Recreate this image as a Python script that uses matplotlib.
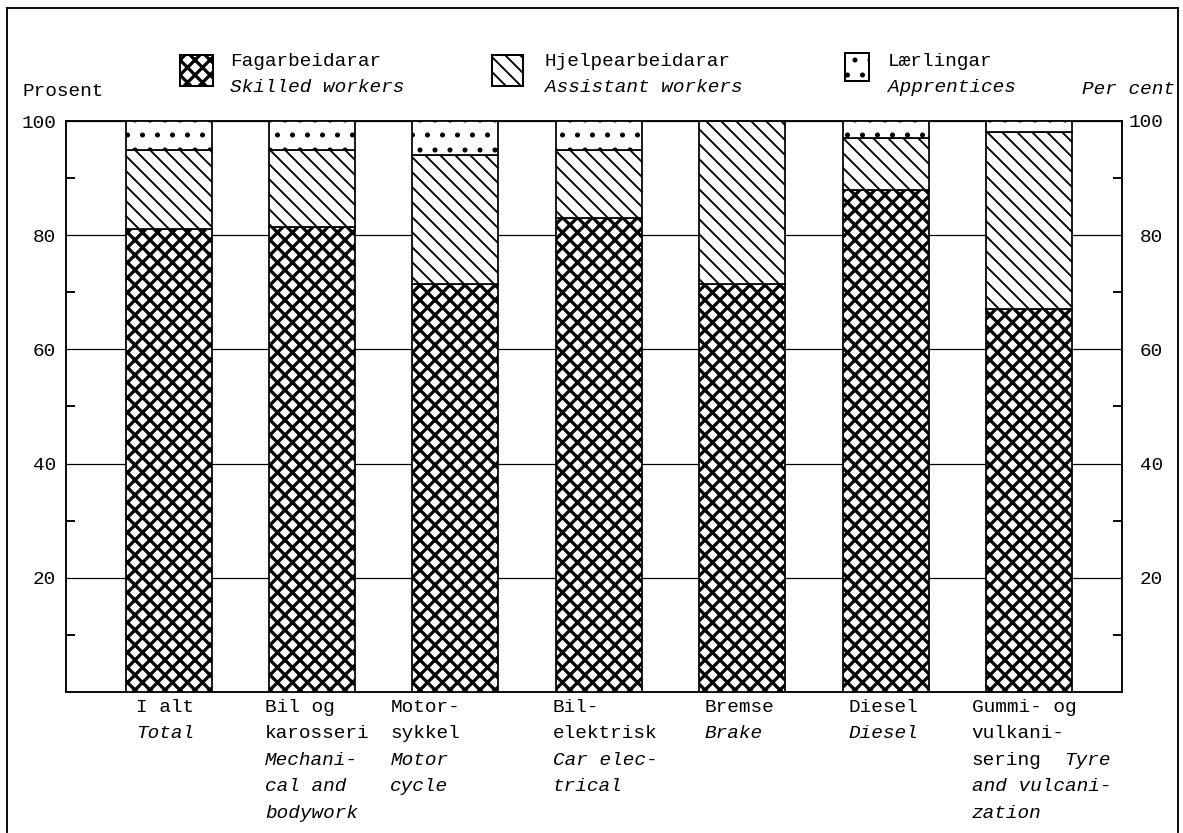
import matplotlib
matplotlib.use("Agg")
import matplotlib.pyplot as plt
from matplotlib.patches import Rectangle
from matplotlib.lines import Line2D
from matplotlib.transforms import blended_transform_factory

# Data (per cent of workers, by trade)
categories = ["I alt", "Bil og karosseri", "Motorsykkel", "Bil-elektrisk",
              "Bremse", "Diesel", "Gummi- og vulkanisering"]
skilled = [81, 81.5, 71.5, 83, 71.5, 88, 67]
assistant = [14, 13.5, 22.5, 12, 28.5, 9, 31]
apprentices = [5, 5, 6, 5, 0, 3, 2]

# category labels: (norwegian, english) per printed line
cat_lines = [
    [("I alt", ""), ("", "Total")],
    [("Bil og", ""), ("karosseri", ""), ("", "Mechani-"), ("", "cal and"), ("", "bodywork")],
    [("Motor-", ""), ("sykkel", ""), ("", "Motor"), ("", "cycle")],
    [("Bil-", ""), ("elektrisk", ""), ("", "Car elec-"), ("", "trical")],
    [("Bremse", ""), ("", "Brake")],
    [("Diesel", ""), ("", "Diesel")],
    [("Gummi- og", ""), ("vulkani-", ""), ("sering", "Tyre"), ("", "and vulcani-"), ("", "zation")],
]
label_shift = [-0.227, -0.328, -0.453, -0.32, -0.265, -0.26, -0.40]

legend_no = ["Fagarbeidarar", "Hjelpearbeidarar", "Lærlingar"]
legend_en = ["Skilled workers", "Assistant workers", "Apprentices"]
hatches = ["xx", "\\\\", "."]
hatch_lw = [2.6, 1.5, 1.6]

W, H, DPI = 1183, 833, 90
MONO = "Liberation Mono"
FS = 15.5
CHAR = 0.6 * FS * DPI / 72  # px per character (monospace)

def fx(px):
    return px / W

def fy(py):
    return 1 - py / H

plt.rcParams["font.family"] = MONO
fig = plt.figure(figsize=(W / DPI, H / DPI), dpi=DPI)
ax = fig.add_axes([fx(66), fy(692), fx(1122) - fx(66), fy(121) - fy(692)])

x = list(range(len(categories)))
bottoms = [0] * len(x)
for vals, h, lw in zip([skilled, assistant, apprentices], hatches, hatch_lw):
    plt.rcParams["hatch.linewidth"] = lw
    bars = ax.bar(x, vals, width=0.6, bottom=bottoms, color="white",
                  edgecolor="black", linewidth=1.4, hatch=h, zorder=3)
    for b in bars:
        if hasattr(b, "set_hatch_linewidth"):
            b.set_hatch_linewidth(lw)
    bottoms = [a + b for a, b in zip(bottoms, vals)]

ax.set_xlim(-0.715, 6.649)
ax.set_ylim(0, 100)
ax.set_xticks([])
ax.set_yticks([20, 40, 60, 80, 100])
ax.set_yticks([10, 30, 50, 70, 90], minor=True)
ax.grid(axis="y", which="major", color="black", linewidth=1.0, zorder=0)
ax.set_axisbelow(True)
for s in ax.spines.values():
    s.set_linewidth(1.5)
ax.tick_params(axis="y", which="major", length=0, pad=8, labelsize=FS)
ax.tick_params(axis="y", which="minor", direction="in", length=7, width=1.5)

# right hand scale
ax2 = ax.twinx()
ax2.set_ylim(0, 100)
ax2.set_yticks([20, 40, 60, 80, 100])
ax2.set_yticks([10, 30, 50, 70, 90], minor=True)
ax2.tick_params(axis="y", which="major", length=0, pad=33, labelsize=FS)
ax2.tick_params(axis="y", which="minor", direction="in", length=7, width=1.5)
for t in ax2.get_yticklabels():
    t.set_horizontalalignment("right")
for s in ax2.spines.values():
    s.set_visible(False)

# category labels under bars
trans = blended_transform_factory(ax.transData, fig.transFigure)
step = CHAR / (fx(1122) - fx(66)) / W * (6.649 + 0.715)
for i, lines in enumerate(cat_lines):
    xi = x[i] + label_shift[i]
    for k, (no, en) in enumerate(lines):
        yy = fy(707 + 26.5 * k)
        if no:
            ax.text(xi, yy, no, transform=trans, fontsize=FS, va="center",
                    ha="left", clip_on=False)
        if en:
            xe = xi + (len(no) + 2) * step if no else xi
            ax.text(xe, yy, en, transform=trans, fontsize=FS, va="center",
                    ha="left", style="italic", clip_on=False)

# legend drawn by hand
leg_patch = [(180, 55, 33, 31), (492, 55, 31, 31), (845, 53, 24, 28)]
leg_text_x = [230, 545, 888]
for i in range(3):
    px, py, pw, ph = leg_patch[i]
    plt.rcParams["hatch.linewidth"] = hatch_lw[i]
    r = Rectangle((fx(px), fy(py + ph)), pw / W, ph / H, transform=fig.transFigure,
                  facecolor="white", edgecolor="black", linewidth=1.6, hatch=hatches[i])
    if hasattr(r, "set_hatch_linewidth"):
        r.set_hatch_linewidth(hatch_lw[i])
    fig.add_artist(r)
    fig.text(fx(leg_text_x[i]), fy(61), legend_no[i], fontsize=FS, va="center", ha="left")
    fig.text(fx(leg_text_x[i]), fy(87), legend_en[i], fontsize=FS, va="center",
             ha="left", style="italic")

fig.text(fx(22), fy(91), "Prosent", fontsize=FS, va="center", ha="left")
fig.text(fx(1175), fy(89), "Per cent", fontsize=FS, va="center", ha="right", style="italic")

# outer frame
for xs, ys in [([7, 7], [8, 832]), ([7, 1178], [8, 8]), ([1178, 1178], [8, 832])]:
    fig.add_artist(Line2D([fx(v) for v in xs], [fy(v) for v in ys],
                          transform=fig.transFigure, color="black", linewidth=1.5))

fig.savefig("out.png", dpi=DPI)
